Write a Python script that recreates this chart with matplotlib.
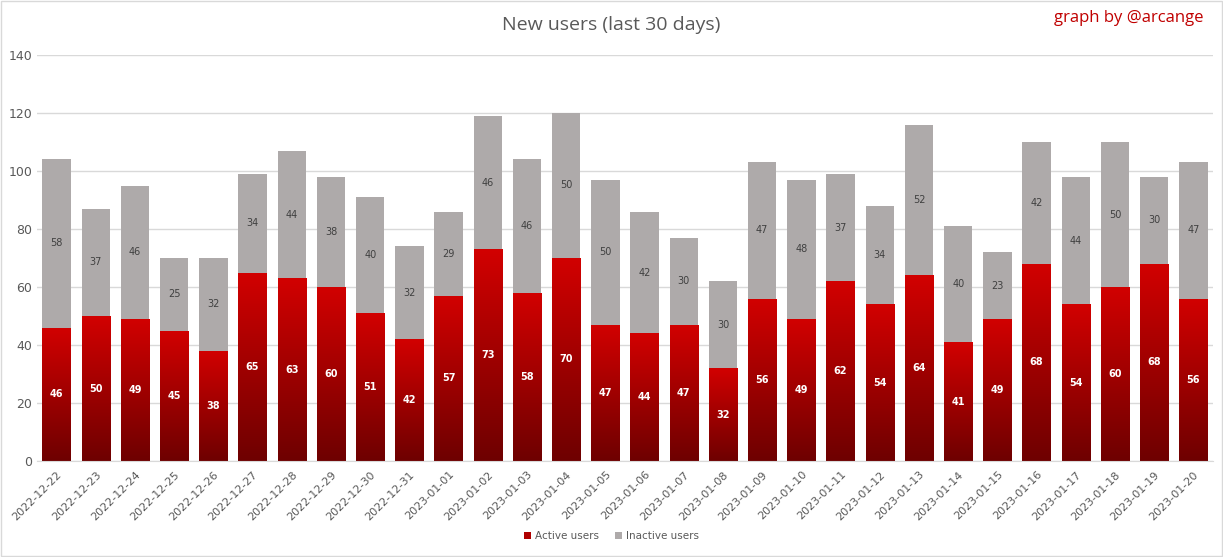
import numpy as np
import matplotlib.pyplot as plt
from matplotlib.colors import LinearSegmentedColormap
from matplotlib.patches import Patch, Rectangle

dates = ['2022-12-22', '2022-12-23', '2022-12-24', '2022-12-25', '2022-12-26',
         '2022-12-27', '2022-12-28', '2022-12-29', '2022-12-30', '2022-12-31',
         '2023-01-01', '2023-01-02', '2023-01-03', '2023-01-04', '2023-01-05',
         '2023-01-06', '2023-01-07', '2023-01-08', '2023-01-09', '2023-01-10',
         '2023-01-11', '2023-01-12', '2023-01-13', '2023-01-14', '2023-01-15',
         '2023-01-16', '2023-01-17', '2023-01-18', '2023-01-19', '2023-01-20']
active = [46, 50, 49, 45, 38, 65, 63, 60, 51, 42, 57, 73, 58, 70, 47,
          44, 47, 32, 56, 49, 62, 54, 64, 41, 49, 68, 54, 60, 68, 56]
inactive = [58, 37, 46, 25, 32, 34, 44, 38, 40, 32, 29, 46, 46, 50, 50,
            42, 30, 30, 47, 48, 37, 34, 52, 40, 23, 42, 44, 50, 30, 47]

text_gray = '#595959'
grey_bar = '#aeaaaa'
red_cmap = LinearSegmentedColormap.from_list('reds', ['#6e0000', '#d20000'])

fig = plt.figure(figsize=(12.23, 5.57), dpi=100)
ax = fig.add_axes([37 / 1223, 1 - 461 / 557, 1176 / 1223, 406 / 557])

x = np.arange(len(dates))
width = 0.72

# inactive on top of active
ax.bar(x, inactive, width=width, bottom=active, color=grey_bar, zorder=2)

# gradient red bars: dark at the bottom, bright at the top of each bar
grad = np.linspace(0, 1, 256).reshape(-1, 1)
for xi, h in zip(x, active):
    im = ax.imshow(grad, cmap=red_cmap, origin='lower', aspect='auto',
                   extent=(xi - width / 2, xi + width / 2, 0, h), zorder=2)
    clip = Rectangle((xi - width / 2, 0), width, h, transform=ax.transData)
    im.set_clip_path(clip)

for xi, a, b in zip(x, active, inactive):
    ax.text(xi, a / 2, str(a), ha='center', va='center', color='white',
            fontsize=7, fontweight='bold', zorder=3)
    ax.text(xi, a + b / 2, str(b), ha='center', va='center', color='#404040',
            fontsize=7, zorder=3)

ax.set_xlim(-0.5, len(dates) - 0.5)
ax.set_ylim(0, 140)
ax.set_yticks(range(0, 141, 20))
ax.yaxis.grid(True, color='#d9d9d9', linewidth=1, zorder=0)
ax.set_axisbelow(True)
for s in ['top', 'right', 'left']:
    ax.spines[s].set_visible(False)
ax.spines['bottom'].set_color('#d9d9d9')
ax.tick_params(axis='both', length=0, colors=text_gray, labelsize=9)
ax.set_xticks(x)
ax.set_xticklabels(dates, rotation=45, ha='right', rotation_mode='anchor',
                   fontsize=8, color=text_gray)
ax.tick_params(axis='x', pad=6)

fig.text(0.5, 1 - 25 / 557, 'New users (last 30 days)', ha='center', va='center',
         fontsize=14, color=text_gray, family='Open Sans')
fig.text(1204 / 1223, 1 - 18 / 557, 'graph by @arcange', ha='right', va='center',
         fontsize=12, color='#c00000', family='Open Sans')

handles = [Patch(facecolor='#b00000'), Patch(facecolor=grey_bar)]
fig.legend(handles, ['Active users', 'Inactive users'], loc='center',
           bbox_to_anchor=(0.5, 1 - 536 / 557), ncol=2, frameon=False,
           fontsize=7.5, handlelength=0.7, handleheight=0.7, columnspacing=1.5,
           handletextpad=0.4, labelcolor=text_gray)

fig.add_artist(Rectangle((0.001, 0.001), 0.998, 0.998, transform=fig.transFigure,
                         fill=False, edgecolor='#d9d9d9', linewidth=1))

fig.savefig('out.png', dpi=100)
